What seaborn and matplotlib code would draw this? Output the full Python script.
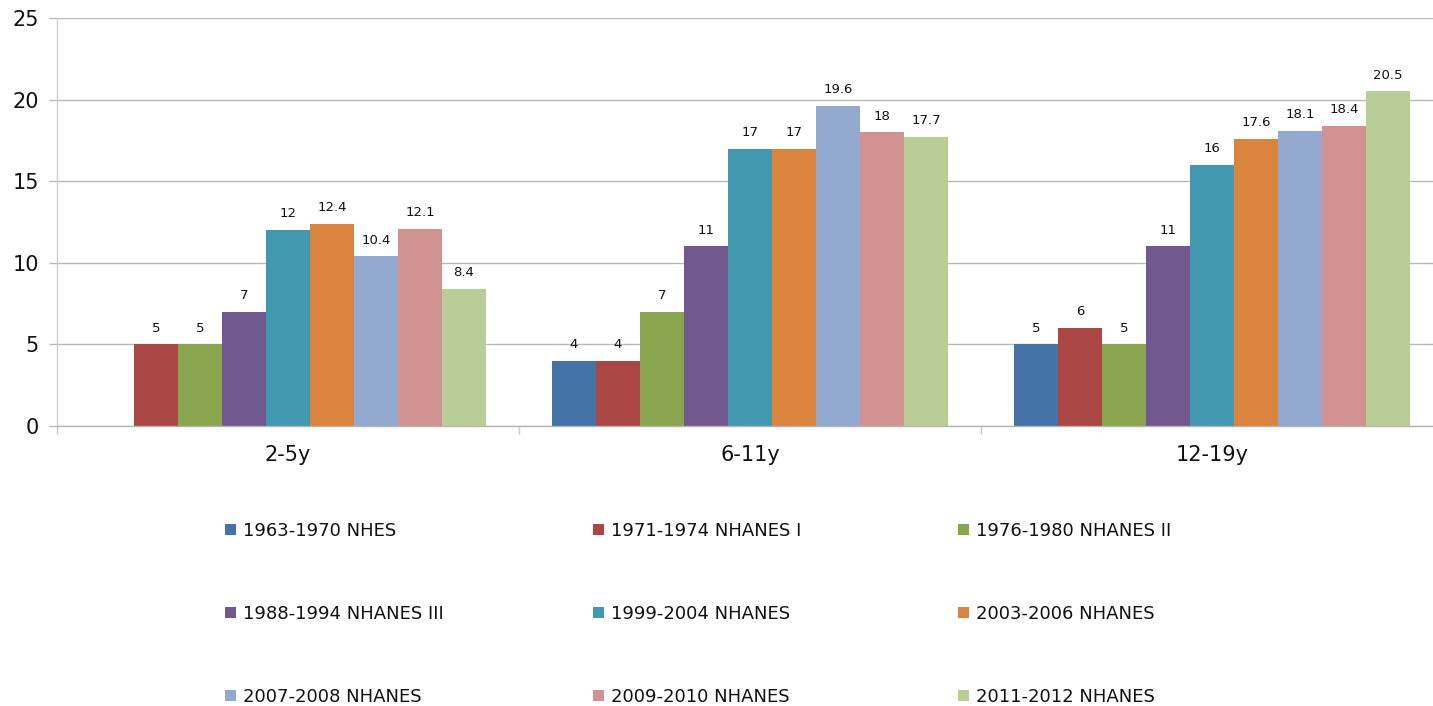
import numpy as np
import pandas as pd
import matplotlib
matplotlib.use("Agg")
import matplotlib.pyplot as plt
from matplotlib.patches import Patch
from matplotlib.ticker import FixedLocator
import seaborn as sns

# Age groups and survey periods
age_groups = ["2-5y", "6-11y", "12-19y"]
surveys = [
    "1963-1970 NHES",
    "1971-1974 NHANES I",
    "1976-1980 NHANES II",
    "1988-1994 NHANES III",
    "1999-2004 NHANES",
    "2003-2006 NHANES",
    "2007-2008 NHANES",
    "2009-2010 NHANES",
    "2011-2012 NHANES",
]

# Prevalence (%) per survey for each age group; 2-5y was not measured in NHES
values_2_5 = [np.nan, 5, 5, 7, 12, 12.4, 10.4, 12.1, 8.4]
values_6_11 = [4, 4, 7, 11, 17, 17, 19.6, 18, 17.7]
values_12_19 = [5, 6, 5, 11, 16, 17.6, 18.1, 18.4, 20.5]

colors = ["#4572A7", "#AA4643", "#89A54E", "#71588F", "#4198AF",
          "#DB843D", "#93A9CF", "#D19392", "#B9CD96"]

rows = []
for grp, vals in zip(age_groups, [values_2_5, values_6_11, values_12_19]):
    for s, v in zip(surveys, vals):
        rows.append({"age": grp, "survey": s, "value": v})
df = pd.DataFrame(rows)

sns.set_theme(style="white")
plt.rcParams["font.family"] = ["DejaVu Sans"]

W, H = 1433, 706
fig = plt.figure(figsize=(W / 100, H / 100), dpi=100)
ax = fig.add_axes([57 / W, 1 - 426 / H, (1443 - 57) / W, (426 - 18) / H])

sns.barplot(data=df, x="age", y="value", hue="survey", order=age_groups,
            hue_order=surveys, palette=colors, width=0.857, gap=0,
            saturation=1, ax=ax, legend=False, linewidth=0, errorbar=None)

# Value labels above each bar
for cont in ax.containers:
    labels = []
    for bar in cont:
        h = bar.get_height()
        labels.append("" if np.isnan(h) else f"{h:g}")
    ax.bar_label(cont, labels=labels, padding=7, fontsize=9.5, color="#111111")

ax.set_xlim(-0.5, 2.5)
ax.set_ylim(0, 25)
ax.set_yticks([0, 5, 10, 15, 20, 25])
ax.set_xlabel("")
ax.set_ylabel("")
ax.yaxis.grid(True, color="#b8b8b8", linewidth=1.0)
ax.set_axisbelow(True)

ax.tick_params(axis="y", which="major", length=6, width=1.0, color="#b8b8b8",
               labelsize=15, pad=7, left=True, labelcolor="#111111")
ax.tick_params(axis="x", which="major", length=0, labelsize=15, pad=14,
               labelcolor="#111111")
ax.xaxis.set_minor_locator(FixedLocator([-0.5, 0.5, 1.5, 2.5]))
ax.tick_params(axis="x", which="minor", length=6, width=1.0, color="#c8c8c8",
               bottom=True)

for side in ["top", "right"]:
    ax.spines[side].set_visible(False)
ax.spines["left"].set_color("#d0d0d0")
ax.spines["bottom"].set_color("#b4b4b4")
ax.spines["left"].set_linewidth(1.0)
ax.spines["bottom"].set_linewidth(1.0)

# Legend: three columns of three entries
handles = [Patch(facecolor=c, edgecolor="none") for c in colors]
col_x = [225, 593, 958]
for ci in range(3):
    idx = [ci, ci + 3, ci + 6]
    fig.legend([handles[i] for i in idx], [surveys[i] for i in idx],
               loc="center left", bbox_to_anchor=(col_x[ci] / W, 1 - 614 / H),
               frameon=False, fontsize=13, handlelength=0.6, handleheight=0.6,
               handletextpad=0.4, labelspacing=3.6, borderpad=0,
               borderaxespad=0, labelcolor="#111111")

fig.savefig("out.png", dpi=100, facecolor="white")
